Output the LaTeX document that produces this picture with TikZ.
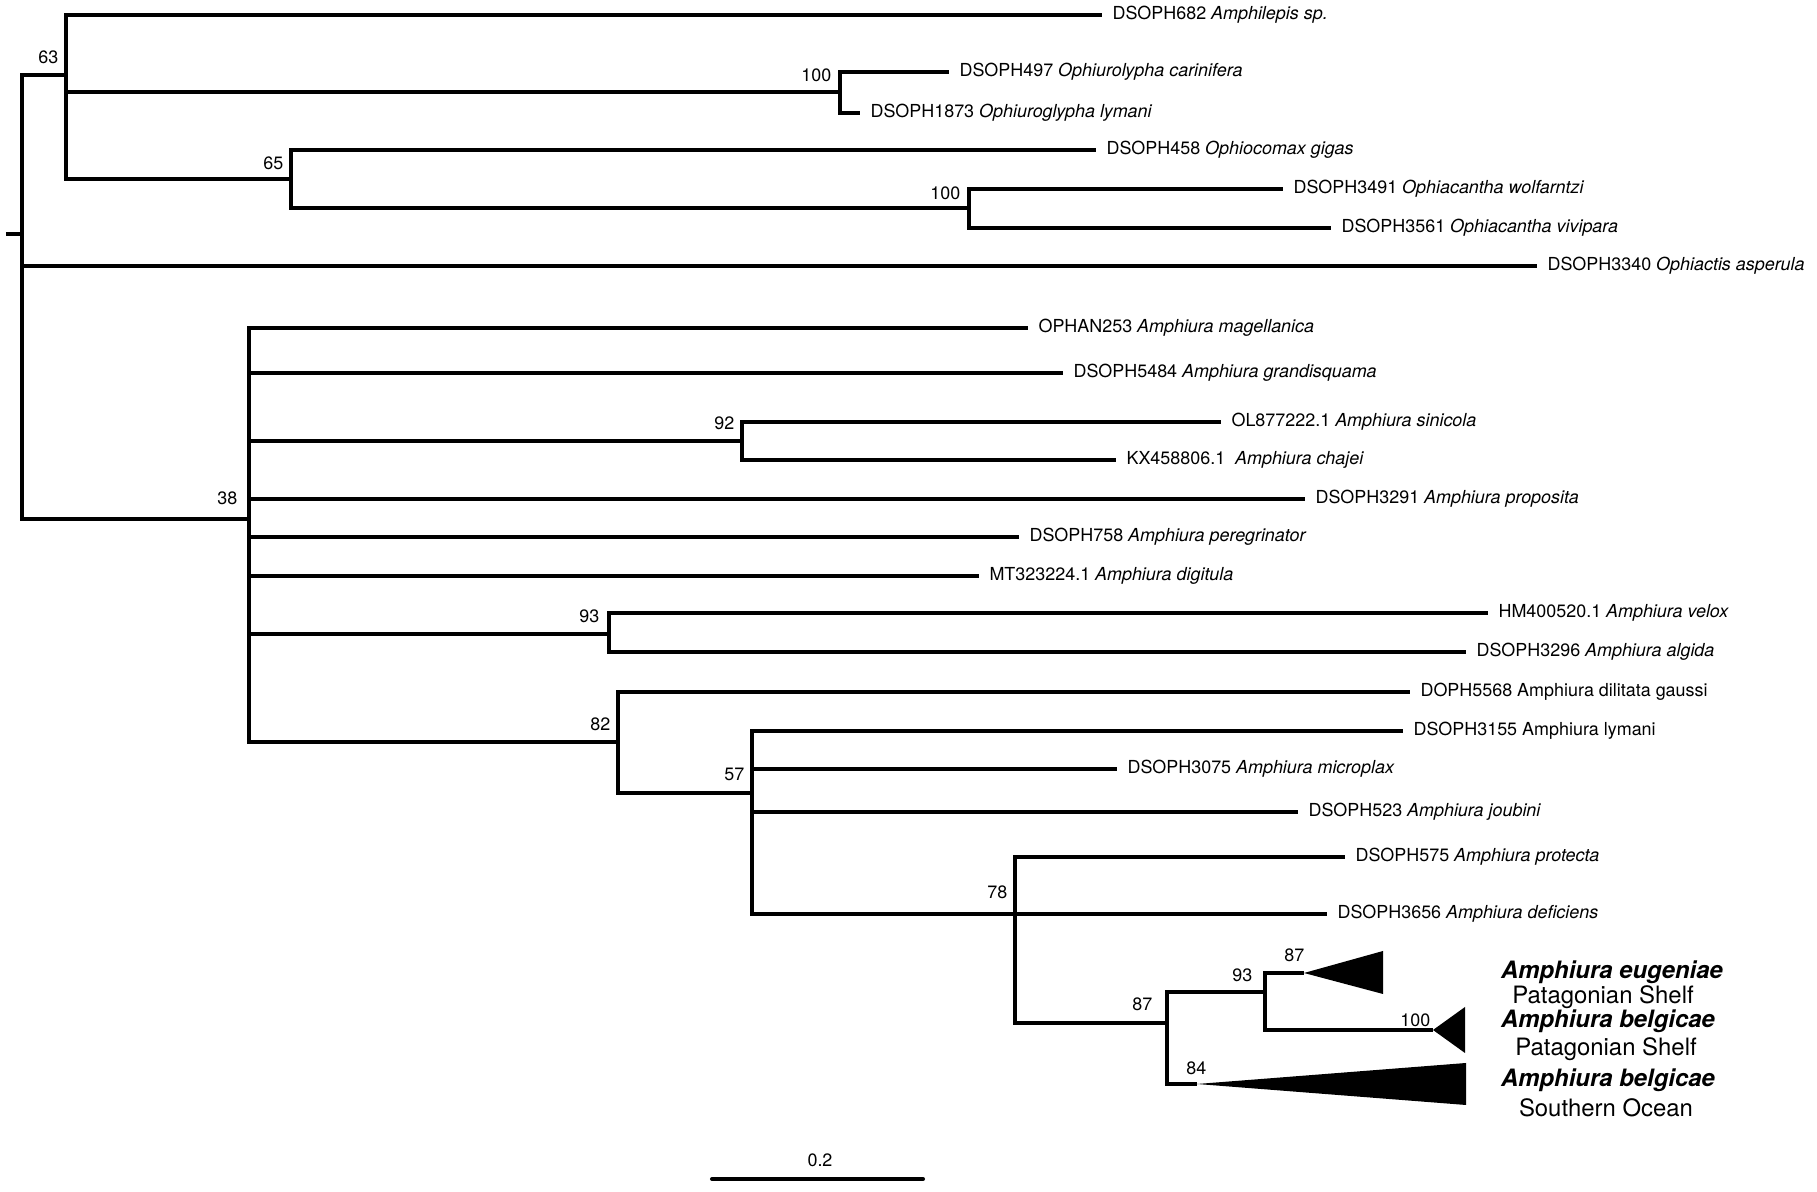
\documentclass[tikz,border=0pt]{standalone}
\usepackage{fontspec}
\setmainfont{TeX Gyre Heros}
\newcommand{\tipsize}{\fontsize{5.1pt}{6pt}\selectfont}
\newcommand{\cladesize}{\fontsize{6.8pt}{8pt}\selectfont}
\tikzset{
  branch/.style={line width=1.15pt, line join=miter},
  tip/.style={anchor=west, inner xsep=2.8pt, inner ysep=0pt, text height=3.65pt, text depth=1.1pt, font=\tipsize},
  boot/.style={anchor=east, inner sep=0pt, text height=3.65pt, text depth=0pt, font=\tipsize},
  cladelab/.style={inner sep=0pt, text height=4.9pt, text depth=0pt, font=\cladesize},
}

\begin{document}
\begin{tikzpicture}[x=0.01cm, y=-0.01cm]
\useasboundingbox (0,0) rectangle (1817,1192);

% internal nodes
\coordinate (stub) at (6,234);
\coordinate (root) at (22,234);
\coordinate (n63) at (66,75);
\coordinate (n100a) at (840,92);
\coordinate (n65) at (291,179);
\coordinate (n100b) at (969,208);
\coordinate (n38) at (249,519);
\coordinate (n92) at (742,441);
\coordinate (n93a) at (609,634);
\coordinate (n82) at (618,742);
\coordinate (n57) at (752,793);
\coordinate (n78) at (1015,914);
\coordinate (n87a) at (1167,1023);
\coordinate (n93b) at (1265,992);
% collapsed clades
\coordinate (c1) at (1304,973);
\coordinate (c2) at (1433,1030);
\coordinate (c3) at (1197,1084);

% tips
\node[tip] (t682) at (1102,15) {DSOPH682 \textit{Amphilepis sp.}};
\node[tip] (t497) at (949,72) {DSOPH497 \textit{Ophiurolypha carinifera}};
\node[tip] (t1873) at (860,113) {DSOPH1873 \textit{Ophiuroglypha lymani}};
\node[tip] (t458) at (1096,150) {DSOPH458 \textit{Ophiocomax gigas}};
\node[tip] (t3491) at (1283,189) {DSOPH3491 \textit{Ophiacantha wolfarntzi}};
\node[tip] (t3561) at (1331,228) {DSOPH3561 \textit{Ophiacantha vivipara}};
\node[tip] (t3340) at (1537,266) {DSOPH3340 \textit{Ophiactis asperula}};
\node[tip] (t253) at (1028,328) {OPHAN253 \textit{Amphiura magellanica}};
\node[tip] (t5484) at (1063,373) {DSOPH5484 \textit{Amphiura grandisquama}};
\node[tip] (tOL) at (1221,422) {OL877222.1 \textit{Amphiura sinicola}};
\node[tip] (tKX) at (1116,460) {KX458806.1\ \ \textit{Amphiura chajei}};
\node[tip] (t3291) at (1305,499) {DSOPH3291 \textit{Amphiura proposita}};
\node[tip] (t758) at (1019,537) {DSOPH758 \textit{Amphiura peregrinator}};
\node[tip] (tMT) at (979,576) {MT323224.1 \textit{Amphiura digitula}};
\node[tip] (tHM) at (1488,613) {HM400520.1 \textit{Amphiura velox}};
\node[tip] (t3296) at (1466,652) {DSOPH3296 \textit{Amphiura algida}};
\node[tip] (t5568) at (1410,692) {DOPH5568 Amphiura dilitata gaussi};
\node[tip] (t3155) at (1403,731) {DSOPH3155 Amphiura lymani};
\node[tip] (t3075) at (1117,769) {DSOPH3075 \textit{Amphiura microplax}};
\node[tip] (t523) at (1298,812) {DSOPH523 \textit{Amphiura joubini}};
\node[tip] (t575) at (1345,857) {DSOPH575 \textit{Amphiura protecta}};
\node[tip] (t3656) at (1327,914) {DSOPH3656 \textit{Amphiura deficiens}};

% branches
\draw[branch] (stub) -- (root);
\foreach \a/\b in {root/n63, root/n38, n63/n100a, n63/n65, n65/n100b,
  n38/n92, n38/n93a, n38/n82, n82/n57, n57/n78, n78/n87a,
  n87a/n93b, n93b/c1, n93b/c2, n87a/c3}
  \draw[branch] (\a) |- (\b);
\foreach \a/\b in {n63/t682, n100a/t497, n100a/t1873, n65/t458,
  n100b/t3491, n100b/t3561, root/t3340, n38/t253, n38/t5484,
  n92/tOL, n92/tKX, n38/t3291, n38/t758, n38/tMT, n93a/tHM,
  n93a/t3296, n82/t5568, n57/t3155, n57/t3075, n57/t523,
  n78/t575, n78/t3656}
  \draw[branch] (\a) |- (\b.west);

% collapsed clades
\fill (c1) -- (1383,951) -- (1383,994) -- cycle;
\fill (c2) -- (1465,1007) -- (1465,1053) -- cycle;
\fill (c3) -- (1466,1063) -- (1466,1105) -- cycle;

% support values
\node[boot] (b63) at ([shift={(-7,-18)}]n63) {63};
\node[boot] (b65) at ([shift={(-7,-16)}]n65) {65};
\node[boot] (b100a) at ([shift={(-8,-17)}]n100a) {100};
\node[boot] (b100b) at ([shift={(-8,-15)}]n100b) {100};
\node[boot] (b38) at ([shift={(-11,-21)}]n38) {38};
\node[boot] (b92) at ([shift={(-7,-18)}]n92) {92};
\node[boot] (b93a) at ([shift={(-9,-18)}]n93a) {93};
\node[boot] (b82) at ([shift={(-7,-18)}]n82) {82};
\node[boot] (b57) at ([shift={(-7,-19)}]n57) {57};
\node[boot] (b78) at ([shift={(-7,-22)}]n78) {78};
\node[boot] (b87a) at ([shift={(-14,-19)}]n87a) {87};
\node[boot] (b93b) at ([shift={(-12,-17)}]n93b) {93};
\node[boot] (b87c) at ([shift={(1,-18)}]c1) {87};
\node[boot] (b100c) at ([shift={(-2,-10)}]c2) {100};
\node[boot] (b84) at ([shift={(10,-16)}]c3) {84};

% clade names
\node[cladelab] (lab1) at (1612,970) {\bfseries\itshape Amphiura eugeniae};
\node[cladelab] (loc1) at (1603,995) {Patagonian Shelf};
\node[cladelab] (lab2) at (1608,1019) {\bfseries\itshape Amphiura belgicae};
\node[cladelab] (loc2) at (1606,1047) {Patagonian Shelf};
\node[cladelab] (lab3) at (1608,1078) {\bfseries\itshape Amphiura belgicae};
\node[cladelab] (loc3) at (1606,1108) {Southern Ocean};

% scale bar
\coordinate (sbl) at (712,1179);
\coordinate (sbr) at (923,1179);
\draw[branch, line cap=round] (sbl) -- (sbr);
\node[boot, anchor=center] (sbt) at (820,1160) {0.2};
\end{tikzpicture}
\end{document}
